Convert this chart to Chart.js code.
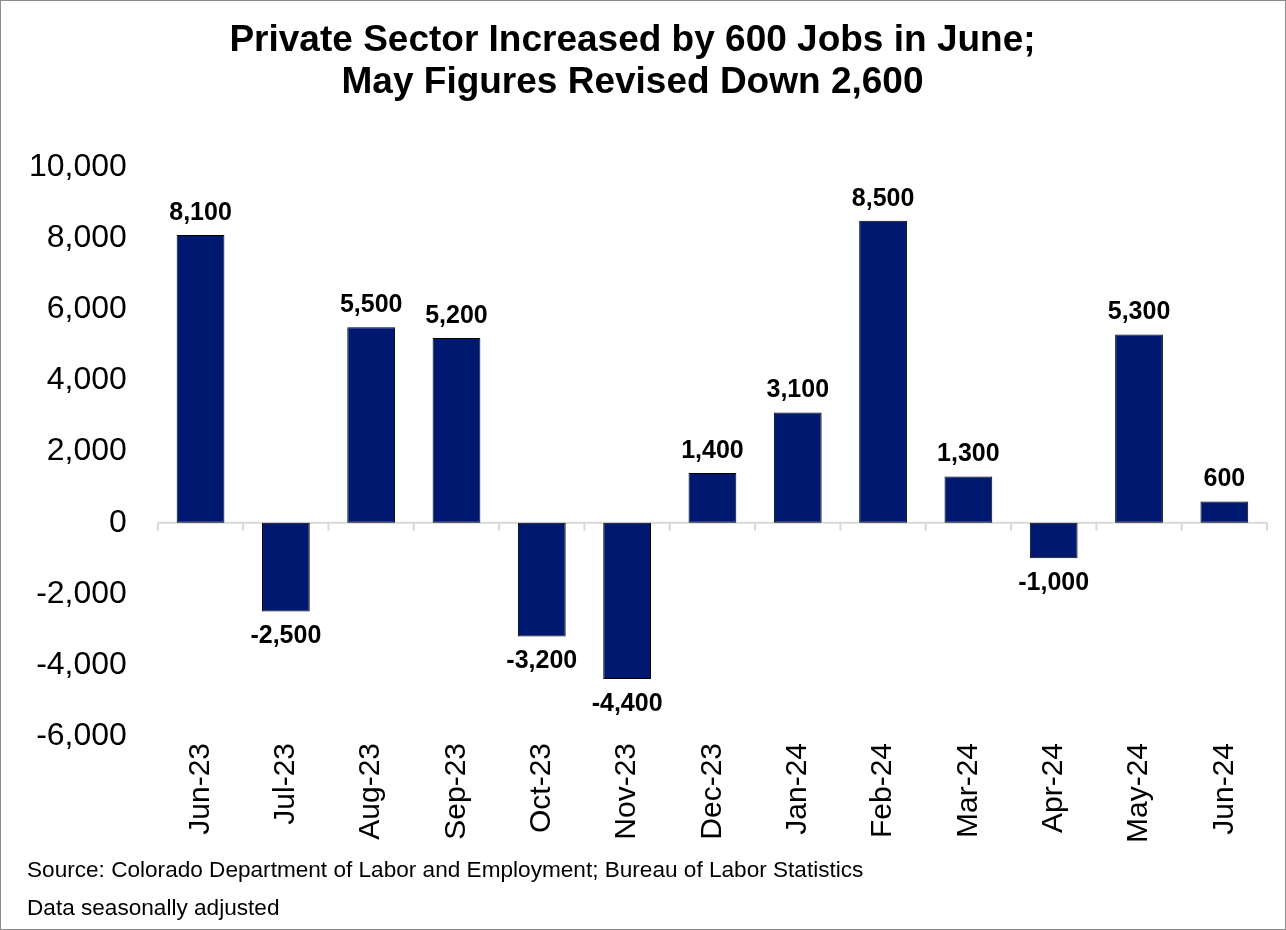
<!DOCTYPE html>
<html>
<head>
<meta charset="utf-8">
<script src="https://cdn.jsdelivr.net/npm/chart.js@4/dist/chart.umd.min.js"></script>
<style>
  html, body { margin: 0; padding: 0; background: #fff; }
  #wrap { position: relative; width: 1286px; height: 930px; box-sizing: border-box; border: 1px solid #8c8c8c; }
  canvas { display: block; }
</style>
</head>
<body>
<div id="wrap"><canvas id="jobsChart" width="1284" height="928"></canvas></div>
<script>
var months = ["Jun-23", "Jul-23", "Aug-23", "Sep-23", "Oct-23", "Nov-23", "Dec-23",
              "Jan-24", "Feb-24", "Mar-24", "Apr-24", "May-24", "Jun-24"];
var jobChange = [8100, -2500, 5500, 5200, -3200, -4400, 1400, 3100, 8500, 1300, -1000, 5300, 600];
var titleLines = ["Private Sector Increased by 600 Jobs in June;", "May Figures Revised Down 2,600"];
var footLines = ["Source: Colorado Department of Labor and Employment; Bureau of Labor Statistics",
                 "Data seasonally adjusted"];

var FONT = "'Liberation Sans', Arial, sans-serif";
var NAVY = "#001970";

function fmt(v) {
  return v.toLocaleString("en-US");
}

// zero line with small ticks at category edges, value labels, footer text
const extras = {
  id: "extras",
  beforeDatasetsDraw(chart) {
    const ctx = chart.ctx;
    const x = chart.scales.x;
    const y0 = chart.scales.y.getPixelForValue(0);
    ctx.save();
    ctx.strokeStyle = "#d9d9d9";
    ctx.lineWidth = 2;
    ctx.beginPath();
    ctx.moveTo(x.left, y0);
    ctx.lineTo(x.right, y0);
    for (let i = 0; i <= months.length; i++) {
      let px;
      if (i === 0) px = x.left;
      else if (i === months.length) px = x.right;
      else px = (x.getPixelForTick(i - 1) + x.getPixelForTick(i)) / 2;
      ctx.moveTo(px, y0);
      ctx.lineTo(px, y0 + 8);
    }
    ctx.stroke();
    ctx.restore();
  },
  afterDatasetsDraw(chart) {
    const ctx = chart.ctx;
    const meta = chart.getDatasetMeta(0);
    ctx.save();
    ctx.fillStyle = "#000";
    ctx.font = "bold 25px " + FONT;
    ctx.textAlign = "center";
    ctx.textBaseline = "middle";
    meta.data.forEach(function (bar, i) {
      const v = jobChange[i];
      const ty = v >= 0 ? bar.y - 22 : bar.y + 25;
      ctx.fillText(fmt(v), bar.x, ty);
    });
    ctx.font = "22.6px " + FONT;
    ctx.textAlign = "left";
    ctx.fillText(footLines[0], 26, 870);
    ctx.fillText(footLines[1], 26, 908);
    ctx.restore();
  }
};

const jobsChart = new Chart(document.getElementById("jobsChart"), {
  type: "bar",
  data: {
    labels: months,
    datasets: [
      {
        label: "Private sector jobs",
        data: jobChange,
        backgroundColor: NAVY,
        borderColor: "#000",
        borderWidth: 1,
        borderSkipped: false,
        categoryPercentage: 1,
        barPercentage: 0.56
      }
    ]
  },
  options: {
    responsive: false,
    animation: false,
    layout: { padding: { left: -3, right: 18, top: 0, bottom: 79 } },
    plugins: {
      legend: { display: false },
      tooltip: { enabled: false },
      title: {
        display: true,
        text: titleLines,
        color: "#000",
        font: { family: FONT, size: 37, weight: "bold", lineHeight: 1.14 },
        padding: { top: 19, bottom: 63 }
      }
    },
    scales: {
      x: {
        grid: { display: false, drawTicks: false },
        border: { display: false },
        ticks: {
          color: "#000",
          font: { family: FONT, size: 30 },
          minRotation: 90,
          maxRotation: 90,
          autoSkip: false,
          padding: 7
        }
      },
      y: {
        min: -6000,
        max: 10000,
        grid: { display: false, drawTicks: false },
        border: { display: false },
        ticks: {
          stepSize: 2000,
          color: "#000",
          font: { family: FONT, size: 32 },
          padding: 31,
          callback: function (v) { return fmt(v); }
        }
      }
    }
  },
  plugins: [extras]
});
</script>
</body>
</html>
